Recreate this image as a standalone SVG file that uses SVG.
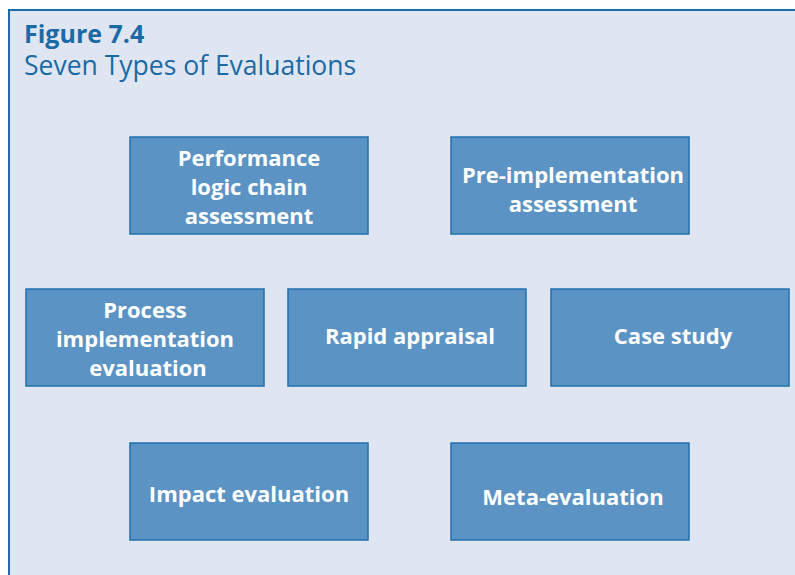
<svg xmlns="http://www.w3.org/2000/svg" width="795" height="575" viewBox="0 0 795 575">
<style>
.bg{fill:#dfe6f1;stroke:#1a6ea8;stroke-width:2}
.box{fill:#5b93c4;stroke:#1f6fae;stroke-width:1.5}
.lbl{font-family:"Open Sans","Liberation Sans",sans-serif;font-weight:700;font-size:22px;fill:#ffffff;text-anchor:middle}
.t1{font-family:"Open Sans","Liberation Sans",sans-serif;font-weight:700;font-size:25px;fill:#1a6aa5}
.t2{font-family:"Open Sans","Liberation Sans",sans-serif;font-size:26.5px;fill:#1a6aa5}
</style>
<rect width="795" height="575" fill="#ffffff"/>
<rect class="bg" x="9" y="10" width="800" height="580"/>
<text class="t1" x="24" y="43">Figure 7.4</text>
<text class="t2" x="24" y="75">Seven Types of Evaluations</text>
<g id="connectors"></g>
<g id="n1"><rect class="box" x="130" y="137" width="238" height="97"/>
<text class="lbl" x="249" y="166">Performance</text><text class="lbl" x="249" y="195">logic chain</text><text class="lbl" x="249" y="224">assessment</text></g>
<g id="n2"><rect class="box" x="451" y="137" width="238" height="97"/>
<text class="lbl" x="573" y="183">Pre-implementation</text><text class="lbl" x="573" y="212">assessment</text></g>
<g id="n3"><rect class="box" x="26" y="289" width="238" height="97"/>
<text class="lbl" x="145" y="318">Process</text><text class="lbl" x="145" y="347">implementation</text><text class="lbl" x="148" y="376">evaluation</text></g>
<g id="n4"><rect class="box" x="288" y="289" width="238" height="97"/>
<text class="lbl" x="410" y="344">Rapid appraisal</text></g>
<g id="n5"><rect class="box" x="551" y="289" width="238" height="97"/>
<text class="lbl" x="673" y="344">Case study</text></g>
<g id="n6"><rect class="box" x="130" y="443" width="238" height="97"/>
<text class="lbl" x="249" y="502">Impact evaluation</text></g>
<g id="n7"><rect class="box" x="451" y="443" width="238" height="97"/>
<text class="lbl" x="573" y="505">Meta-evaluation</text></g>
</svg>
